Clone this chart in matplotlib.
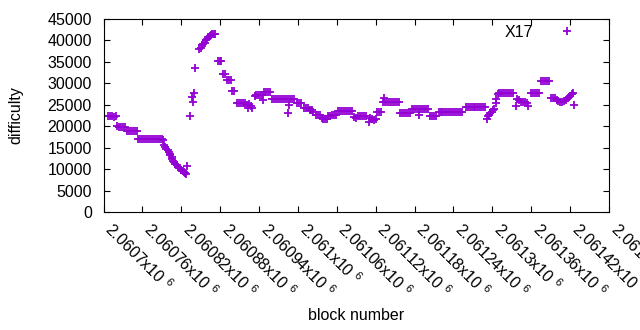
import matplotlib
matplotlib.use('Agg')
import matplotlib.pyplot as plt

plt.rcParams['font.family'] = ['Liberation Sans', 'DejaVu Sans']
plt.rcParams['mathtext.fontset'] = 'custom'
plt.rcParams['mathtext.rm'] = 'Liberation Sans'
plt.rcParams['mathtext.it'] = 'Liberation Sans'
plt.rcParams['font.size'] = 11.5

BASE_BLOCK = 2060700

# block number offsets (from BASE_BLOCK) and difficulty
block_offset = [
    7, 10, 13, 16, 19,
    21, 24, 27, 30, 33,
    36, 39, 42, 45, 48, 51,
    54, 57, 60, 63, 66, 69, 72, 75, 78, 81, 84, 87, 90, 92,
    94, 95, 97, 99, 101, 102, 103, 105, 106, 108, 109, 111, 113, 115, 117,
    119, 120, 122, 124, 125, 127, 129,
    133, 137, 138, 140, 141,
    148, 150, 152, 154, 156, 158, 160, 162, 164, 166, 168, 170, 172,
    176, 179, 182, 185, 187, 190, 193, 196, 199, 202,
    206, 209, 212, 215, 218, 221, 223, 224, 227, 229,
    233, 236, 239, 242, 245, 246, 248, 251, 254, 257,
    260, 263, 266, 269, 272, 275, 278, 281, 284, 285, 286, 288, 291, 294,
    299, 302, 305, 309, 312, 315, 318, 321, 324, 328, 331, 334,
    337, 339, 342, 345, 347, 350, 353, 356, 359,
    362, 365, 368, 371, 374, 377, 380, 383,
    386, 389, 392, 396, 399, 402, 405,
    409, 411, 414, 417, 420, 422, 425, 428,
    432, 433, 435, 438, 441, 444, 447, 450, 453, 456,
    458, 461, 464, 467, 470, 473, 476, 479, 482, 485, 487,
    488, 491, 494, 497, 500, 504, 507, 510, 513,
    517, 520, 523, 526, 529, 532, 535, 538, 541, 544, 547, 550, 553,
    559, 562, 565, 568, 571, 574, 577, 580, 583, 586, 589,
    591, 593, 595, 597, 599, 601, 603, 605, 606, 608,
    611, 614, 617, 620, 623, 626, 629, 632, 636,
    638, 641, 644, 647, 650, 653, 655,
    660, 663, 666, 669, 672, 675, 678, 681, 684, 687,
    690, 693, 696, 699, 702, 705, 708,
    711, 714, 717, 720, 723, 725, 726,
]
difficulty = [
    22300, 22400, 22300, 22200, 22300,
    20000, 19900, 19900, 19800, 19900,
    18800, 18800, 18800, 18800, 18800, 18800,
    16950, 16950, 16950, 16950, 16950, 16950, 16950, 16950, 16950, 16950, 16950, 16950, 16950, 16900,
    15600, 15200, 14700, 14400, 14000, 13600, 13200, 12800, 12400, 11900, 11600, 11300, 10900, 10500, 10200,
    9900, 9700, 9500, 9300, 9200, 8900, 10700,
    22400, 26700, 25700, 27700, 33500,
    37900, 38300, 38900, 39200, 39500, 40000, 40300, 40800, 41000, 41300, 41400, 41500, 41500,
    35100, 35100, 35100, 32200, 32200, 30700, 30700, 30700, 28200, 28200,
    25300, 25300, 25300, 25300, 25300, 24900, 24200, 25100, 24800, 24300,
    27100, 27200, 27300, 27200, 27300, 26100, 27900, 28000, 27900, 27900,
    26300, 26300, 26300, 26300, 26300, 26300, 26300, 26300, 26300, 23000, 24900, 26300, 26300, 26300,
    25400, 25400, 25400, 24200, 24200, 24200, 23800, 23800, 23200, 22600, 22600, 22600,
    22000, 21600, 21600, 21600, 22300, 22500, 22700, 22600, 22600,
    23600, 23600, 23600, 23600, 23600, 23600, 23600, 23600,
    22200, 21900, 22300, 22400, 22400, 22400, 22400,
    21100, 21900, 21800, 21500, 21600, 23400, 23400, 23400,
    25600, 26500, 25600, 25600, 25600, 25600, 25600, 25600, 25600, 25600,
    23000, 23000, 23000, 23000, 23000, 23000, 24000, 24000, 24000, 24000, 22600,
    23900, 23900, 23900, 23900, 23900, 22500, 22500, 22500, 22500,
    23200, 23200, 23200, 23200, 23200, 23200, 23200, 23200, 23200, 23200, 23200, 23200, 23200,
    24400, 24400, 24400, 24400, 24400, 24400, 24400, 24400, 24400, 24400, 24400,
    21800, 22300, 22600, 23000, 23300, 23700, 24000, 25300, 26400, 27500,
    27700, 27700, 27700, 27700, 27700, 27700, 27700, 27700, 24600,
    26300, 26000, 25700, 25700, 25600, 25500, 24700,
    27800, 27800, 27800, 27800, 27800, 30500, 30500, 30500, 30500, 30500,
    26500, 26500, 26500, 26000, 25800, 25600, 25600,
    25800, 26100, 26600, 27000, 27500, 27800, 25000,
]

tick_blocks = [2060700, 2060760, 2060820, 2060880, 2060940, 2061000, 2061060,
               2061120, 2061180, 2061240, 2061300, 2061360, 2061420, 2061480]
tick_text = ['2.0607', '2.06076', '2.06082', '2.06088', '2.06094', '2.061', '2.06106',
             '2.06112', '2.06118', '2.06124', '2.0613', '2.06136', '2.06142', '2.06148']

blocks = [BASE_BLOCK + b for b in block_offset]

fig = plt.figure(figsize=(6.4, 3.3), dpi=100)
ax = fig.add_axes([103.5 / 640, 1 - 212 / 330, 505.5 / 640, 193 / 330])

ax.plot(blocks, difficulty, '+', color='#9400d3', ms=6, mew=1.3, ls='none', label='X17')

ax.set_xlim(2060700, 2061480)
ax.set_ylim(0, 45000)
ax.set_yticks(range(0, 45001, 5000))
ax.set_xticks(tick_blocks)
ax.set_xticklabels([t + r'x10 $^{6}$' for t in tick_text], rotation=-45,
                   ha='left', va='baseline', rotation_mode='anchor')
ax.tick_params(direction='in', top=True, right=True, length=4, width=0.8)
ax.tick_params(axis='x', pad=13.5)
ax.tick_params(axis='y', pad=8.4)

ax.set_xlabel('block number')
ax.xaxis.label.set_va('center')
ax.xaxis.set_label_coords(0.5, -103 / 193)
ax.set_ylabel('difficulty')
ax.yaxis.label.set_va('center')
ax.yaxis.set_label_coords(-88 / 505, 0.5)

ax.legend(loc='upper right', bbox_to_anchor=(0.970, 0.987), frameon=False,
          markerfirst=False, handlelength=3, handletextpad=0.6,
          borderaxespad=0, borderpad=0.2)

fig.savefig('out.png', dpi=100)
